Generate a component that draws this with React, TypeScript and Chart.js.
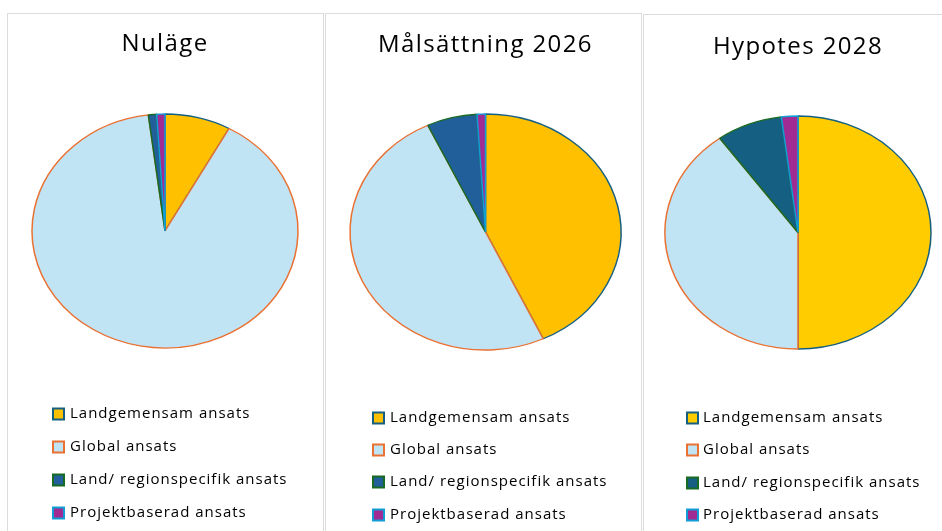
import React, { useEffect, useRef } from 'react';
import { Chart, registerables } from 'chart.js';

Chart.register(...registerables);

// ---- data ----
const categories = [
  'Landgemensam ansats',
  'Global ansats',
  'Land/ regionspecifik ansats',
  'Projektbaserad ansats',
];
const titles = ['Nuläge', 'Målsättning 2026', 'Hypotes 2028'];
const nulage = [8, 90, 1, 1];
const malsattning2026 = [43, 50, 6, 1];
const hypotes2028 = [50, 40, 8, 2];

const borderColors = ['#156082', '#E97132', '#196B24', '#0F9ED5'];
const fillsA = ['#FFC000', '#C1E4F5', '#215F9A', '#A02B93'];
const fillsB = ['#FFCC00', '#C1E4F5', '#156082', '#A02B93'];

const W = 315;
const H = 520;
const BW = 1.5;
const TITLE_SIZE = 24;
const TITLE_LH = TITLE_SIZE * 1.2;
const TITLE_PAD_TOP = 16;

type PanelCfg = {
  left: number;
  top: number;
  title: string;
  values: number[];
  fills: string[];
  cx: number;
  cy: number;
  rx: number;
  ry: number;
  titleDy: number;
  boxX: number;
  textX: number;
  rowsY: number[];
};

const panels: PanelCfg[] = [
  { left: 7, top: 13, title: titles[0], values: nulage, fills: fillsA, cx: 157, cy: 217, rx: 133, ry: 117, titleDy: 0, boxX: 45, textX: 62, rowsY: [400, 433, 466, 499] },
  { left: 325, top: 13, title: titles[1], values: malsattning2026, fills: fillsA, cx: 159.5, cy: 218, rx: 135.5, ry: 118, titleDy: 1, boxX: 47, textX: 64, rowsY: [404, 436, 468, 501] },
  { left: 643, top: 14, title: titles[2], values: hypotes2028, fills: fillsB, cx: 154, cy: 217.5, rx: 133, ry: 116.5, titleDy: 2, boxX: 43, textX: 59, rowsY: [403, 435, 468, 500] },
];

const ellipseLegendPlugin = {
  id: 'ellipseLegend',
  beforeDraw(chart: any) {
    (chart.ctx as any).letterSpacing = '1.4px';
  },
  beforeDatasetsDraw(chart: any, _args: any, opts: any) {
    const ctx = chart.ctx;
    (ctx as any).letterSpacing = '0px';
    const arc = chart.getDatasetMeta(0).data[0];
    ctx.save();
    ctx.translate(arc.x, arc.y);
    ctx.scale(1, opts.sy);
    ctx.translate(-arc.x, -arc.y);
  },
  afterDatasetsDraw(chart: any) {
    chart.ctx.restore();
    (chart.ctx as any).letterSpacing = '1.4px';
  },
  afterDraw(chart: any, _args: any, opts: any) {
    const ctx = chart.ctx;
    const ds = chart.data.datasets[0];
    ctx.save();
    (ctx as any).letterSpacing = '1px';
    ctx.font = '15px "Open Sans"';
    ctx.textBaseline = 'middle';
    ctx.textAlign = 'left';
    chart.data.labels.forEach((lab: string, i: number) => {
      const y = opts.rowsY[i];
      const s = 11;
      ctx.fillStyle = ds.backgroundColor[i];
      ctx.fillRect(opts.boxX, y - s / 2, s, s);
      ctx.lineWidth = 2;
      ctx.strokeStyle = ds.borderColor[i];
      ctx.strokeRect(opts.boxX, y - s / 2, s, s);
      ctx.fillStyle = '#000';
      ctx.fillText(lab, opts.textX, y);
    });
    ctx.restore();
    (ctx as any).letterSpacing = '0px';
  },
};

function PiePanel({ cfg }: { cfg: PanelCfg }) {
  const ref = useRef<HTMLCanvasElement>(null);
  useEffect(() => {
    if (!ref.current) return;
    const r = cfg.rx;
    const padTop = TITLE_PAD_TOP + cfg.titleDy;
    const padBottom = cfg.cy - r - BW / 2 - padTop - TITLE_LH;
    const pad = {
      left: cfg.cx - r - BW / 2,
      right: W - cfg.cx - r - BW / 2,
      top: 0,
      bottom: H - cfg.cy - r - BW / 2,
    };
    const chart = new Chart(ref.current, {
      type: 'pie',
      data: {
        labels: categories,
        datasets: [
          {
            data: cfg.values,
            backgroundColor: cfg.fills,
            borderColor: borderColors,
            borderWidth: BW,
            hoverBorderWidth: BW,
          },
        ],
      },
      options: {
        responsive: false,
        animation: false,
        devicePixelRatio: 1,
        layout: { padding: pad },
        plugins: {
          title: {
            display: true,
            text: cfg.title,
            color: '#000',
            font: { family: '"Open Sans"', size: TITLE_SIZE, weight: 'normal' as any, lineHeight: 1.2 },
            padding: { top: padTop, bottom: padBottom },
          },
          legend: { display: false },
          tooltip: { enabled: false },
          ellipseLegend: { sy: cfg.ry / cfg.rx, boxX: cfg.boxX, textX: cfg.textX, rowsY: cfg.rowsY },
        } as any,
      },
      plugins: [ellipseLegendPlugin],
    });
    return () => chart.destroy();
  }, [cfg]);
  return (
    <div
      style={{
        position: 'absolute',
        left: cfg.left,
        top: cfg.top,
        width: W,
        height: H,
        border: '1.5px solid #DCDCDC',
        background: '#fff',
      }}
    >
      <canvas ref={ref} width={W} height={H} style={{ display: 'block' }} />
    </div>
  );
}

export default function App() {
  return (
    <div
      style={{
        position: 'fixed',
        left: 0,
        top: 0,
        width: 942,
        height: 531,
        overflow: 'hidden',
        background: '#fff',
      }}
    >
      {panels.map((p, i) => (
        <PiePanel key={i} cfg={p} />
      ))}
    </div>
  );
}
